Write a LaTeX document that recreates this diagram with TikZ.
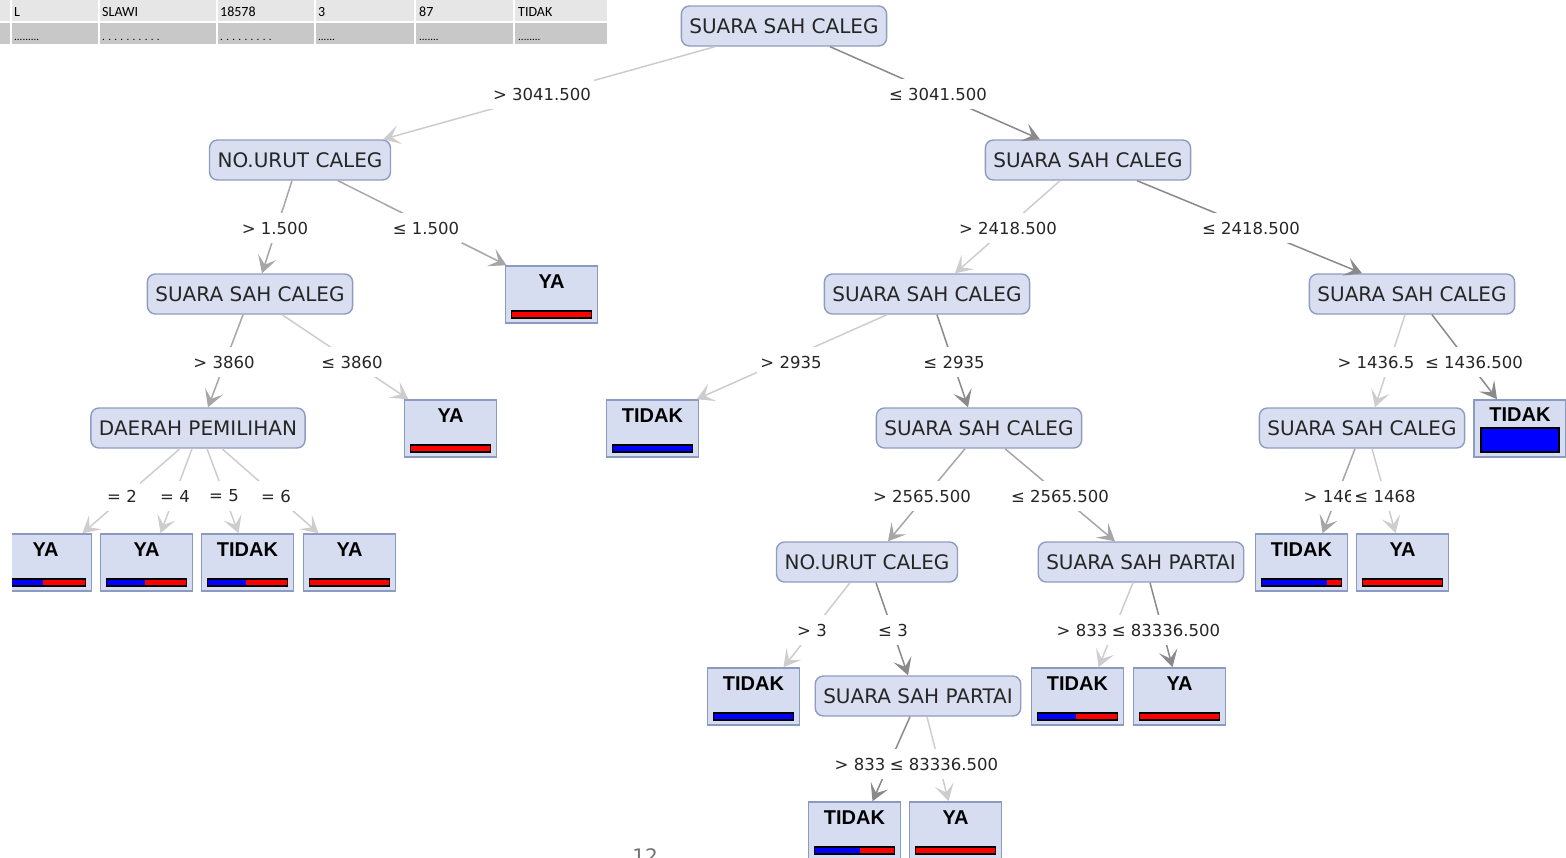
\documentclass[tikz,border=0pt]{standalone}
\usepackage{fontspec}
\setmainfont{DejaVu Sans}
\newfontfamily\leaffont{Liberation Sans}
\newfontfamily\tablefont{Carlito}
\usetikzlibrary{arrows.meta}
\definecolor{nodefill}{HTML}{D9DFF1}
\definecolor{nodeborder}{HTML}{8E9CC2}
\definecolor{leaffill}{HTML}{D6DDF0}
\definecolor{leafborder}{HTML}{8A9AC0}
\definecolor{edgedark}{HTML}{8A8A8A}
\definecolor{edgemid}{HTML}{A6A6A6}
\definecolor{edgelight}{HTML}{CDCDCD}
\definecolor{rowone}{HTML}{E6E6E6}
\definecolor{rowtwo}{HTML}{C8C8C8}
\definecolor{barblue}{HTML}{0000FF}
\definecolor{barred}{HTML}{FF0000}
\newcommand\leafnode[5]{%
  \node[leafbox] (#1) at (#2,#3) {};
  \node[leaflabel] (#1-t) at (#2,#3-12.5) {#4};
  \fill[barred] (#2-40,#3+16.5) rectangle (#2+40,#3+23.5);
  \fill[barblue] (#2-40,#3+16.5) rectangle ({#2-40+80*#5},#3+23.5);
  \draw[black, line width=1.2pt] (#2-40,#3+16.5) rectangle (#2+40,#3+23.5);
}
\tikzset{
  innernode/.style={draw=nodeborder, fill=nodefill, rounded corners=8pt, line width=1.4pt,
    minimum height=40pt, inner xsep=8pt, text=black!85,
    font=\fontsize{20pt}{24pt}\selectfont},
  leafbox/.style={draw=leafborder, fill=leaffill, line width=1.5pt, minimum width=92pt,
    minimum height=57pt, inner sep=0pt},
  leaflabel/.style={inner sep=0pt, font=\leaffont\bfseries\fontsize{20pt}{24pt}\selectfont},
  elabel/.style={fill=white, inner xsep=3pt, inner ysep=9pt, text=black!85,
    font=\fontsize{16.5pt}{20pt}\selectfont},
  tiptip/.style={-{Stealth[length=17pt,width=19pt,inset=8pt]}},
  edgeD/.style={draw=edgedark, line width=1.5pt, tiptip},
  edgeM/.style={draw=edgemid, line width=1.5pt, tiptip},
  edgeL/.style={draw=edgelight, line width=1.5pt, tiptip},
  tabtext/.style={inner sep=0pt, anchor=base west, font=\tablefont\fontsize{14pt}{16pt}\selectfont},
  tabdots/.style={inner sep=0pt, anchor=base west, font=\tablefont\fontsize{11pt}{13pt}\selectfont},
}
\begin{document}
\begin{tikzpicture}[x=1pt,y=-1pt]
\useasboundingbox (0,0) rectangle (1566,857);
\clip (0,0) rectangle (1566,857);
% table strip
\fill[rowone] (0,0) rectangle (607,21);
\fill[rowtwo] (0,23) rectangle (607,44);
\foreach \cx in {11,99,217,315,415,514}{\draw[white, line width=1.5pt] (\cx,0) -- (\cx,44);}
\node[tabtext] (c1) at (14,16) {L};
\node[tabtext] (c2) at (102,16) {SLAWI};
\node[tabtext] (c3) at (220,16) {18578};
\node[tabtext] (c4) at (318,16) {3};
\node[tabtext] (c5) at (419,16) {87};
\node[tabtext] (c6) at (518,16) {TIDAK};
\node[tabdots] (d1) at (14,40) {.........};
\node[tabdots] (d2) at (102,40) {. . . . . . . . . .};
\node[tabdots] (d3) at (220,40) {. . . . . . . . .};
\node[tabdots] (d4) at (318,40) {......};
\node[tabdots] (d5) at (419,40) {.......};
\node[tabdots] (d6) at (518,40) {........};
% internal nodes
\node[innernode] (root) at (784,26) {SUARA SAH CALEG};
\node[innernode] (nu1) at (300,160) {NO.URUT CALEG};
\node[innernode] (ssc2) at (1088,160) {SUARA SAH CALEG};
\node[innernode] (ssc3) at (250,294) {SUARA SAH CALEG};
\node[innernode] (ssc4) at (927,294) {SUARA SAH CALEG};
\node[innernode] (ssc5) at (1412,294) {SUARA SAH CALEG};
\node[innernode] (dp) at (198,428) {DAERAH PEMILIHAN};
\node[innernode] (ssc6) at (979,428) {SUARA SAH CALEG};
\node[innernode] (ssc7) at (1362,428) {SUARA SAH CALEG};
\node[innernode] (nu2) at (867,562) {NO.URUT CALEG};
\node[innernode] (ssp1) at (1141,562) {SUARA SAH PARTAI};
\node[innernode] (ssp2) at (918,696) {SUARA SAH PARTAI};
% leaves
\leafnode{ya1}{551.5}{294.5}{YA}{0}
\leafnode{ya2}{450.5}{428.5}{YA}{0}
\leafnode{td1}{652.5}{428.5}{TIDAK}{1}
\node[leafbox] (td2) at (1520,428.5) {};
\node[leaflabel] (td2-t) at (1520,415) {TIDAK};
\fill[barblue] (1481,428) rectangle (1559,452);
\draw[black, line width=1.2pt] (1481,428) rectangle (1559,452);
\begin{scope}
\clip (12,500) rectangle (120,600);
\leafnode{ya3}{45.5}{562.5}{YA}{0.47}
\end{scope}
\leafnode{ya4}{146.5}{562.5}{YA}{0.48}
\leafnode{td3}{247.5}{562.5}{TIDAK}{0.48}
\leafnode{ya5}{349.5}{562.5}{YA}{0}
\leafnode{td4}{1301.5}{562.5}{TIDAK}{0.82}
\leafnode{ya6}{1402.5}{562.5}{YA}{0}
\leafnode{td5}{753.5}{696.5}{TIDAK}{1}
\leafnode{td6}{1077.5}{696.5}{TIDAK}{0.48}
\leafnode{ya7}{1179.5}{696.5}{YA}{0}
\leafnode{td7}{854.5}{830.5}{TIDAK}{0.57}
\leafnode{ya8}{955.5}{830.5}{YA}{0}
% edges
\draw[edgeL] ([xshift=-69pt]root.south) -- ([xshift=83pt]nu1.north);
\draw[edgeD] ([xshift=46pt]root.south) -- ([xshift=-48pt]ssc2.north);
\draw[edgeM] ([xshift=-8pt]nu1.south) -- ([xshift=12pt]ssc3.north);
\draw[edgeM] ([xshift=38pt]nu1.south) -- ([xshift=-45pt]ya1.north);
\draw[edgeL] ([xshift=-28pt]ssc2.south) -- ([xshift=28pt]ssc4.north);
\draw[edgeD] ([xshift=49pt]ssc2.south) -- ([xshift=-50pt]ssc5.north);
\draw[edgeM] ([xshift=-7pt]ssc3.south) -- ([xshift=10pt]dp.north);
\draw[edgeL] ([xshift=32pt]ssc3.south) -- ([xshift=-42pt]ya2.north);
\draw[edgeL] ([xshift=-40pt]ssc4.south) -- ([xshift=44pt]td1.north);
\draw[edgeD] ([xshift=10pt]ssc4.south) -- ([xshift=-11pt]ssc6.north);
\draw[edgeL] ([xshift=-7pt]ssc5.south) -- ([xshift=13pt]ssc7.north);
\draw[edgeD] ([xshift=20pt]ssc5.south) -- ([xshift=-23pt]td2.north);
\draw[edgeL] ([xshift=-18pt]dp.south) -- ([xshift=37pt]ya3.north);
\draw[edgeL] ([xshift=-6pt]dp.south) -- ([xshift=14pt]ya4.north);
\draw[edgeL] ([xshift=9pt]dp.south) -- ([xshift=-9pt]td3.north);
\draw[edgeL] ([xshift=24pt]dp.south) -- ([xshift=-31pt]ya5.north);
\draw[edgeM] ([xshift=-14pt]ssc6.south) -- ([xshift=21pt]nu2.north);
\draw[edgeM] ([xshift=26pt]ssc6.south) -- ([xshift=-26pt]ssp1.north);
\draw[edgeM] ([xshift=-7pt]ssc7.south) -- ([xshift=21pt]td4.north);
\draw[edgeL] ([xshift=10pt]ssc7.south) -- ([xshift=-7pt]ya6.north);
\draw[edgeL] ([xshift=-17pt]nu2.south) -- ([xshift=30pt]td5.north);
\draw[edgeD] ([xshift=9pt]nu2.south) -- ([xshift=-10pt]ssp2.north);
\draw[edgeL] ([xshift=-8pt]ssp1.south) -- ([xshift=21pt]td6.north);
\draw[edgeD] ([xshift=9pt]ssp1.south) -- ([xshift=-7pt]ya7.north);
\draw[edgeD] ([xshift=-8pt]ssp2.south) -- ([xshift=18pt]td7.north);
\draw[edgeL] ([xshift=9pt]ssp2.south) -- ([xshift=-7pt]ya8.north);
% edge labels
\node[elabel] (l1) at (542,94) {> 3041.500};
\node[elabel] (l2) at (938,94) {≤ 3041.500};
\node[elabel] (l3) at (275,228) {> 1.500};
\node[elabel] (l4) at (426,228) {≤ 1.500};
\node[elabel] (l5) at (1008,228) {> 2418.500};
\node[elabel] (l6) at (1251,228) {≤ 2418.500};
\node[elabel] (l7) at (224,362) {> 3860};
\node[elabel] (l8) at (352,362) {≤ 3860};
\node[elabel] (l9) at (791,362) {> 2935};
\node[elabel] (l10) at (954,362) {≤ 2935};
\node[elabel] (l11) at (1376,362) {> 1436.5};
\node[elabel] (l12) at (1474,362) {≤ 1436.500};
\node[elabel] (l13) at (122,496) {= 2};
\node[elabel] (l14) at (175,496) {= 4};
\node[elabel] (l15) at (224,496) {= 5};
\node[elabel] (l16) at (276,496) {= 6};
\node[elabel] (l17) at (922,496) {> 2565.500};
\node[elabel] (l18) at (1060,496) {≤ 2565.500};
\node[elabel] (l19) at (1329,496) {> 146};
\node[elabel] (l20) at (1385,496) {≤ 1468};
\node[elabel] (l21) at (812,630) {> 3};
\node[elabel] (l22) at (893,630) {≤ 3};
\node[elabel] (l23) at (1082,630) {> 833};
\node[elabel] (l24) at (1166,630) {≤ 83336.500};
\node[elabel] (l25) at (860,764) {> 833};
\node[elabel] (l26) at (944,764) {≤ 83336.500};
% page number, cut at the bottom edge as in the source
\node[inner sep=0pt, text=black!55, font=\fontsize{20pt}{24pt}\selectfont] (pg) at (645,856) {12};
\end{tikzpicture}
\end{document}
